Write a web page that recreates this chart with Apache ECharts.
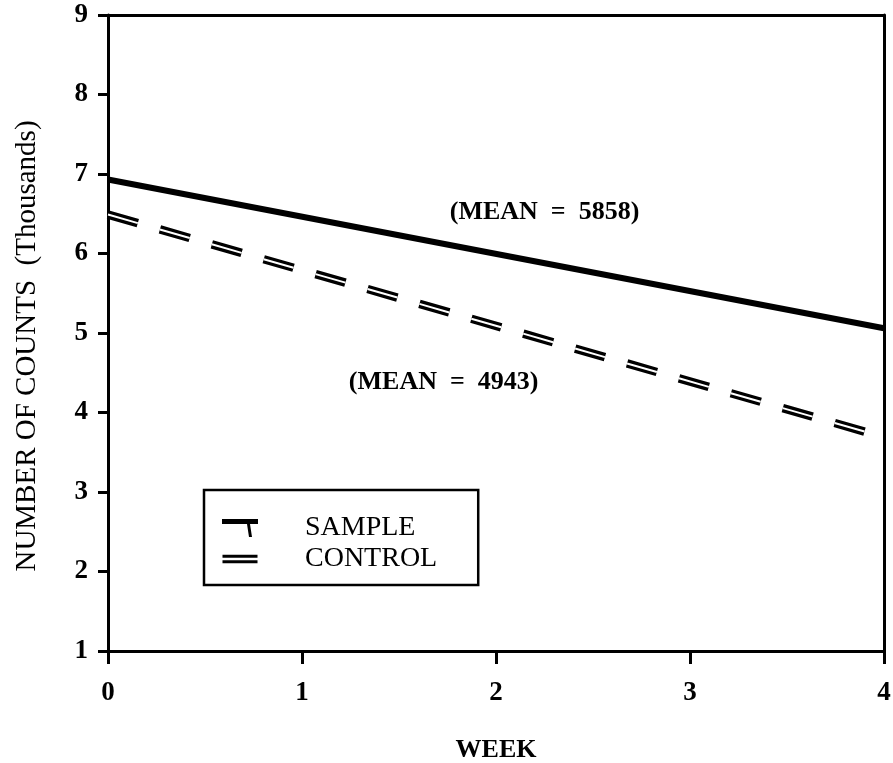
<!DOCTYPE html>
<html>
<head>
<meta charset="utf-8">
<script src="https://cdn.jsdelivr.net/npm/echarts@6/dist/echarts.min.js"></script>
<style>
html, body { margin: 0; padding: 0; background: #ffffff; }
#chart { width: 893px; height: 763px; }
</style>
</head>
<body>
<div id="chart"></div>
<script>
// ---- data ----
const weeks = [0, 4];
const sampleValues = [6.93, 5.06];
const controlValues = [6.49, 3.69];
const seriesNames = ['SAMPLE', 'CONTROL'];
const xAxisTitle = 'WEEK';
const yAxisTitle = 'NUMBER OF COUNTS  (Thousands)';
const meanLabels = ['(MEAN  =  5858)', '(MEAN  =  4943)'];
const meanAnchorWeeks = [2.25, 1.73];
const meanAnchorValues = [6.52, 4.38];
const xTickMin = 0, xTickMax = 4, xTickStep = 1;
const yTickMin = 1, yTickMax = 9, yTickStep = 1;

const FONT = '"Liberation Serif", "Times New Roman", serif';

const samplePairs = weeks.map((w, i) => [w, sampleValues[i]]);
const controlPairs = weeks.map((w, i) => [w, controlValues[i]]);

const chart = echarts.init(document.getElementById('chart'), null, { renderer: 'canvas' });

const dashPattern = [31, 23];

const option = {
  animation: false,
  backgroundColor: '#ffffff',
  grid: { left: 108, right: 9, top: 15, bottom: 112, containLabel: false, outerBoundsMode: 'none' },
  xAxis: [
    {
      type: 'value', min: xTickMin, max: xTickMax, interval: xTickStep,
      position: 'bottom',
      name: xAxisTitle, nameLocation: 'middle', nameGap: 86,
      nameTextStyle: { fontFamily: FONT, fontSize: 26, fontWeight: 'bold', color: '#000' },
      axisLine: { show: true, onZero: false, lineStyle: { color: '#000', width: 3 } },
      axisTick: { show: true, inside: false, length: 13, lineStyle: { color: '#000', width: 3 } },
      axisLabel: { show: true, margin: 29, fontFamily: FONT, fontSize: 27, fontWeight: 'bold', color: '#000', showMaxLabel: true, showMinLabel: true },
      splitLine: { show: false }
    },
    {
      type: 'value', min: xTickMin, max: xTickMax, interval: xTickStep,
      position: 'top',
      axisLine: { show: true, onZero: false, lineStyle: { color: '#000', width: 3 } },
      axisTick: { show: false }, axisLabel: { show: false }, splitLine: { show: false }
    }
  ],
  yAxis: [
    {
      type: 'value', min: yTickMin, max: yTickMax, interval: yTickStep,
      position: 'left',
      name: yAxisTitle, nameLocation: 'middle', nameGap: 66, nameRotate: 90,
      nameTextStyle: { fontFamily: FONT, fontSize: 29, color: '#000', padding: [0, 26, 0, 0] },
      axisLine: { show: true, onZero: false, lineStyle: { color: '#000', width: 3 } },
      axisTick: { show: true, inside: false, length: 10, lineStyle: { color: '#000', width: 3 } },
      axisLabel: { show: true, margin: 20, fontFamily: FONT, fontSize: 27, fontWeight: 'bold', color: '#000' },
      splitLine: { show: false }
    },
    {
      type: 'value', min: yTickMin, max: yTickMax, interval: yTickStep,
      position: 'right',
      axisLine: { show: true, onZero: false, lineStyle: { color: '#000', width: 3 } },
      axisTick: { show: false }, axisLabel: { show: false }, splitLine: { show: false }
    }
  ],
  legend: {
    data: [
      { name: seriesNames[0], icon: 'path://M0,0 L36,0 L36,5 L0,5 Z M25,5 L28,5 L30,18 L27,18 Z' },
      { name: seriesNames[1], icon: 'path://M0,-5 L0.01,-5 L0.01,-4.99 Z M0,0 L36,0 L36,3 L0,3 Z M0,5.5 L36,5.5 L36,8.5 L0,8.5 Z M0,13.5 L0.01,13.5 L0.01,13.51 Z' }
    ],
    orient: 'vertical',
    left: 204, top: 490,
    itemWidth: 36, itemHeight: 18,
    itemGap: 3,
    padding: [24, 41, 12, 18],
    borderColor: '#000', borderWidth: 2.5, borderRadius: 0,
    backgroundColor: '#fff',
    itemStyle: { color: '#000', borderWidth: 0 },
    selectedMode: false,
    textStyle: { fontFamily: FONT, fontSize: 28, color: '#000', padding: [0, 0, 0, 42] }
  },
  series: [
    {
      name: seriesNames[0], type: 'line', data: samplePairs,
      xAxisIndex: 0, yAxisIndex: 0,
      symbol: 'none', color: '#000',
      lineStyle: { color: '#000', width: 6, cap: 'butt' },
      z: 3,
      markPoint: {
        symbol: 'circle', symbolSize: 0,
        itemStyle: { color: 'rgba(0,0,0,0)' },
        label: { show: true, position: 'inside', fontFamily: FONT, fontSize: 26, fontWeight: 'bold', color: '#000' },
        data: meanLabels.map((t, i) => ({
          coord: [meanAnchorWeeks[i], meanAnchorValues[i]],
          value: t,
          label: { formatter: t }
        }))
      }
    },
    {
      name: seriesNames[1], type: 'line', data: controlPairs,
      xAxisIndex: 0, yAxisIndex: 0,
      symbol: 'none', color: '#000',
      lineStyle: { color: '#000', width: 8.5, type: dashPattern, cap: 'butt' },
      z: 3
    },
    {
      name: 'CONTROL-gap', type: 'line', data: controlPairs,
      xAxisIndex: 0, yAxisIndex: 0,
      symbol: 'none', color: '#fff',
      lineStyle: { color: '#fff', width: 2, type: dashPattern, cap: 'butt' },
      z: 4, silent: true
    }
  ]
};

chart.setOption(option);
</script>
</body>
</html>
